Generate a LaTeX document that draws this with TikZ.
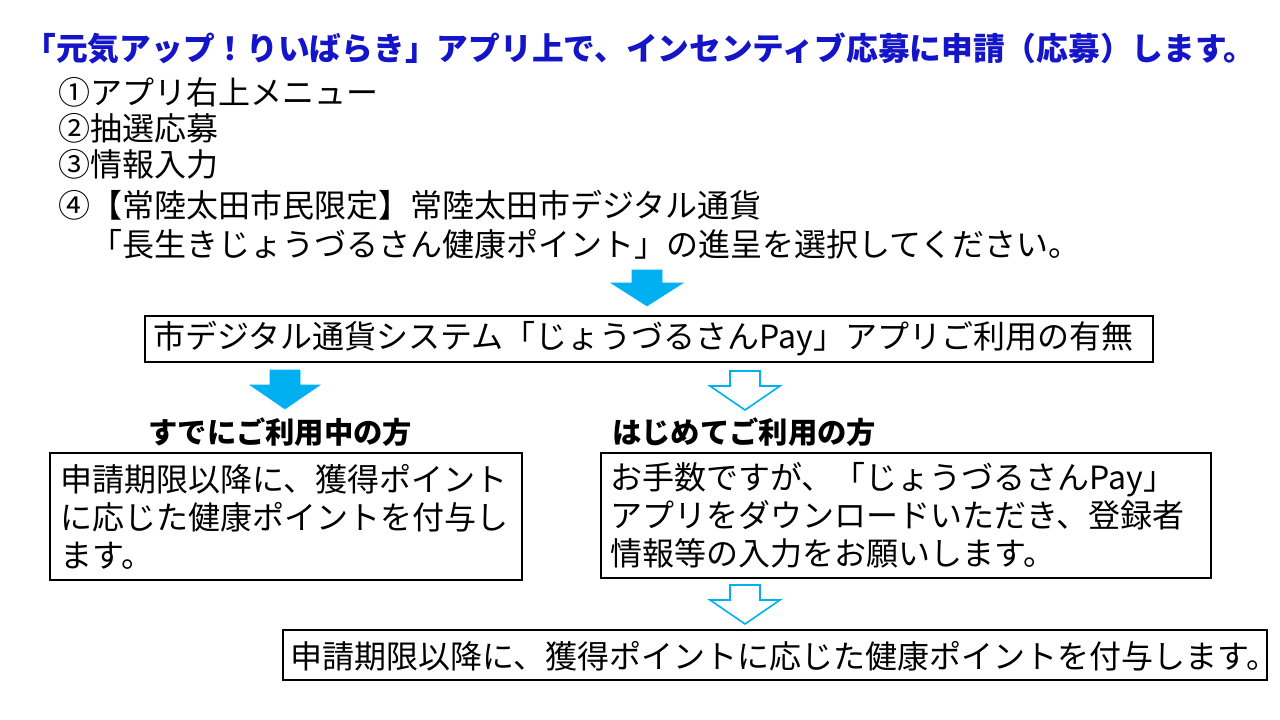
\documentclass[tikz,border=0pt]{standalone}
\usepackage{fontspec}
\setmainfont{Noto Sans CJK JP}
\definecolor{ttl}{RGB}{20,20,200}
\definecolor{arr}{RGB}{0,176,240}
\begin{document}
\begin{tikzpicture}[x=0.75pt,y=-0.75pt,
  box/.style={draw,line width=0.8pt,inner sep=0pt},
  txt/.style={font=\fontsize{24}{30}\selectfont,anchor=west,inner sep=0pt},
  full/.style={fill=arr,draw=arr},
  hollow/.style={draw=arr,fill=white,line width=1.2pt}]
\useasboundingbox (0,0) rectangle (1280,720);
\node[font=\fontsize{23.8}{28}\bfseries\selectfont,text=ttl,inner sep=0pt] (title) at (640,48) {「元気アップ！りいばらき」アプリ上で、インセンティブ応募に申請（応募）します。};
\node[txt] (l1) at (58,92) {①アプリ右上メニュー};
\node[txt] (l2) at (58,128) {②抽選応募};
\node[txt] (l3) at (58,164) {③情報入力};
\node[txt] (l4) at (58,205) {④【常陸太田市民限定】常陸太田市デジタル通貨};
\node[txt] (l5) at (90,244) {「長生きじょうづるさん健康ポイント」の進呈を選択してください。};
% arrows
\draw[full] (632,270)--(662,270)--(662,283)--(683,283)--(647,306)--(611,283)--(632,283)--cycle;
\draw[box] (145,316) rectangle (1153,362);
\node[txt] (b1) at (153,339) {市デジタル通貨システム「じょうづるさんPay」アプリご利用の有無};
\draw[full] (270,370)--(300,370)--(300,385)--(320,385)--(285,409)--(250,385)--(270,385)--cycle;
\draw[hollow] (730,371)--(760,371)--(760,386)--(780,386)--(745,410)--(710,386)--(730,386)--cycle;
\node[txt,font=\fontsize{22}{26}\bfseries\selectfont] (h1) at (148,432) {すでにご利用中の方};
\node[txt,font=\fontsize{22}{26}\bfseries\selectfont] (h2) at (612,432) {はじめてご利用の方};
\draw[box] (50,453) rectangle (522,580);
\node[txt,align=left,anchor=north west,font=\fontsize{24}{28.5}\selectfont] (b2) at (60,464) {申請期限以降に、獲得ポイント\\に応じた健康ポイントを付与し\\ます。};
\draw[box] (601,453) rectangle (1211,578);
\node[txt,align=left,anchor=north west,font=\fontsize{24}{28.5}\selectfont] (b3) at (610,462) {お手数ですが、「じょうづるさんPay」\\アプリをダウンロードいただき、登録者\\情報等の入力をお願いします。};
\draw[hollow] (730,585)--(760,585)--(760,600)--(780,600)--(745,624)--(710,600)--(730,600)--cycle;
\draw[box] (283,630) rectangle (1267,680);
\node[txt] (b4) at (290,656) {申請期限以降に、獲得ポイントに応じた健康ポイントを付与します。};
\end{tikzpicture}
\end{document}
